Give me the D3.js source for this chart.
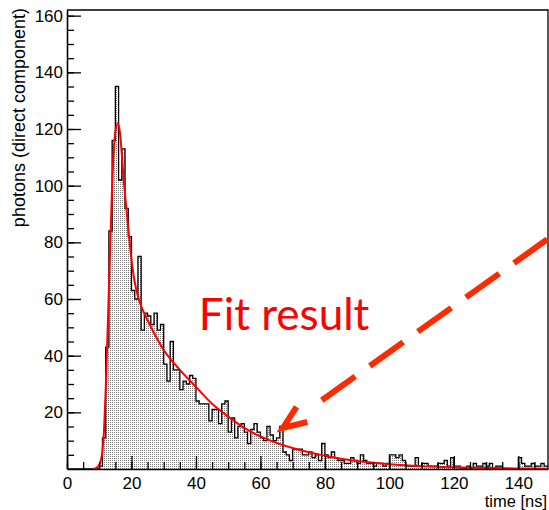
<!DOCTYPE html>
<html>
<head>
<meta charset="utf-8">
<script src="https://cdn.jsdelivr.net/npm/d3@7/dist/d3.min.js"></script>
<style>
body { margin: 0; background: #fff; }
svg { display: block; }
text { font-family: "Liberation Sans", Arial, sans-serif; }
</style>
</head>
<body>
<script>
// photon counts per 1 ns bin, starting at 0 ns
const counts = [
  0, 0, 0, 0, 0, 0, 0, 0, 0, 0,
  1, 11, 43, 84, 116, 135, 102, 113, 92, 82,
  63, 60, 75, 49, 55, 54, 51, 55, 49, 51,
  37, 31, 45, 35, 35, 28, 31, 30, 33, 32,
  24, 23, 23, 23, 17, 21, 21, 16, 23, 24,
  13, 18, 11, 15, 16, 13, 9, 14, 16, 13,
  11, 10, 15, 12, 10, 11, 15, 6, 5, 3,
  7, 7, 7, 5, 5, 6, 4, 5, 3, 9,
  5, 4, 6, 4, 3, 3, 2, 2, 4, 3,
  2, 5, 3, 2, 2, 1, 2, 2, 1, 2,
  5, 5, 4, 5, 3, 1, 1, 1, 4, 1,
  2, 2, 1, 1, 1, 2, 2, 3, 1, 4,
  1, 1, 0, 0, 1, 0, 2, 1, 1, 2,
  1, 2, 0, 1, 1, 0, 0, 0, 0, 0,
  4, 2, 1, 1, 2, 1, 1, 2, 1, 1
];
const binWidth = 1;

// fit curve
const fitT = [8, 9, 10, 10.5, 11, 11.5, 12, 12.5, 13, 13.5, 14, 14.5, 15, 15.8, 16.5, 17, 17.5, 18, 19, 20, 21, 22, 23, 25, 27, 30, 35, 40, 45, 50, 55, 60, 65, 70, 75, 80, 85, 90, 100, 110, 120, 130, 140, 149.2];
const fitV = [0, 0.3, 1.5, 3, 6.5, 14, 28, 45, 64, 82, 100, 112, 119, 122, 118, 111, 103, 97, 85, 74, 66, 61, 57.5, 52.5, 48, 42, 35, 29, 23, 18.5, 14.5, 11.5, 9.2, 7.4, 5.9, 4.7, 3.6, 2.8, 1.7, 1, 0.6, 0.35, 0.2, 0.1];

const xTicks = [0, 20, 40, 60, 80, 100, 120, 140];
const yTicks = [20, 40, 60, 80, 100, 120, 140, 160];

// annotation anchors (data units)
const arrowTip = [67, 14.5];
const arrowTail = [151, 82.7];
const label = { text: "Fit result", t: 40.9, v: 49 };

const w = 549, h = 510;

const x = d3.scaleLinear().domain([0, 149.2]).range([67, 548]);
const y = d3.scaleLinear().domain([0, 162]).range([469, 10]);

const svg = d3.select("body").append("svg")
  .attr("width", w)
  .attr("height", h);

const defs = svg.append("defs");
const pat = defs.append("pattern")
  .attr("id", "dots")
  .attr("patternUnits", "userSpaceOnUse")
  .attr("width", 2).attr("height", 2);
pat.append("rect").attr("width", 2).attr("height", 2).attr("fill", "#fff");
pat.append("rect").attr("width", 1).attr("height", 1).attr("fill", "#7a7a7a");

defs.append("clipPath").attr("id", "plot")
  .append("rect")
  .attr("x", x(0)).attr("y", y(162))
  .attr("width", x(149.2) - x(0)).attr("height", y(0) - y(162));

// histogram as a step outline
const pts = [[x(0), y(0)]];
counts.forEach((c, i) => {
  pts.push([x(i * binWidth), y(c)]);
  pts.push([x((i + 1) * binWidth), y(c)]);
});
pts.push([x(counts.length * binWidth), y(0)]);

const g = svg.append("g").attr("clip-path", "url(#plot)");

g.append("path")
  .attr("d", d3.line()(pts))
  .attr("fill", "url(#dots)")
  .attr("stroke", "#000")
  .attr("stroke-width", 1.3);

// fit
const fit = fitT.map((t, i) => [t, fitV[i]]);
g.append("path")
  .datum(fit)
  .attr("d", d3.line().x(d => x(d[0])).y(d => y(d[1])).curve(d3.curveMonotoneX))
  .attr("fill", "none")
  .attr("stroke", "#ff0000")
  .attr("stroke-width", 2);

// axes, ROOT style ticks pointing inside
const xAxis = svg.append("g").attr("transform", `translate(0,${y(0)})`);
xAxis.call(d3.axisBottom(x).tickValues(xTicks).tickSizeInner(-13).tickSizeOuter(0).tickPadding(8));
xAxis.append("g").call(d3.axisBottom(x).tickValues(d3.range(0, 150, 5)).tickSize(-7).tickFormat(""))
  .select(".domain").remove();

const yAxis = svg.append("g").attr("transform", `translate(${x(0)},0)`);
yAxis.call(d3.axisLeft(y).tickValues(yTicks).tickSizeInner(-14).tickSizeOuter(0).tickPadding(4));
yAxis.append("g").call(d3.axisLeft(y).tickValues(d3.range(5, 162, 5)).tickSize(-7).tickFormat(""))
  .select(".domain").remove();

svg.selectAll(".domain").attr("stroke-width", 1.6);
svg.selectAll(".tick line").attr("stroke-width", 1.3);
svg.selectAll(".tick text")
  .attr("font-size", 17)
  .attr("fill", "#000");

// frame
svg.append("path")
  .attr("d", `M${x(0)},${y(162)}H${x(149.2)}V${y(0)}`)
  .attr("fill", "none")
  .attr("stroke", "#000")
  .attr("stroke-width", 1.3);

svg.append("text")
  .attr("transform", `translate(25,${y(162) - 2}) rotate(-90)`)
  .attr("text-anchor", "end")
  .attr("font-size", 18)
  .text("photons (direct component)");

svg.append("text")
  .attr("x", 547)
  .attr("y", 507)
  .attr("text-anchor", "end")
  .attr("font-size", 16.5)
  .text("time [ns]");

// annotation
svg.append("text")
  .attr("x", x(label.t))
  .attr("y", y(label.v))
  .style("font-family", "Lato, 'Open Sans', sans-serif")
  .attr("font-size", 44)
  .attr("fill", "#ff0000")
  .text(label.text);

const tip = [x(arrowTip[0]), y(arrowTip[1])];
const tail = [x(arrowTail[0]), y(arrowTail[1])];
const dx = tail[0] - tip[0], dy = tail[1] - tip[1];
const len = Math.hypot(dx, dy);
const ux = dx / len, uy = dy / len;
const start = [tip[0] + ux * 47.7, tip[1] + uy * 47.7];

svg.append("line")
  .attr("x1", start[0]).attr("y1", start[1])
  .attr("x2", tail[0]).attr("y2", tail[1])
  .attr("stroke", "#ff2a00")
  .attr("stroke-width", 6)
  .attr("stroke-dasharray", "41 18");

const ang = Math.atan2(uy, ux);
const arm = 25, spread = 0.38;
const a1 = [tip[0] + arm * Math.cos(ang - spread), tip[1] + arm * Math.sin(ang - spread)];
const a2 = [tip[0] + arm * Math.cos(ang + spread), tip[1] + arm * Math.sin(ang + spread)];
svg.append("path")
  .attr("d", `M${a1}L${tip}L${a2}`)
  .attr("fill", "none")
  .attr("stroke", "#ff2a00")
  .attr("stroke-width", 6)
  .attr("stroke-linejoin", "miter");
</script>
</body>
</html>
